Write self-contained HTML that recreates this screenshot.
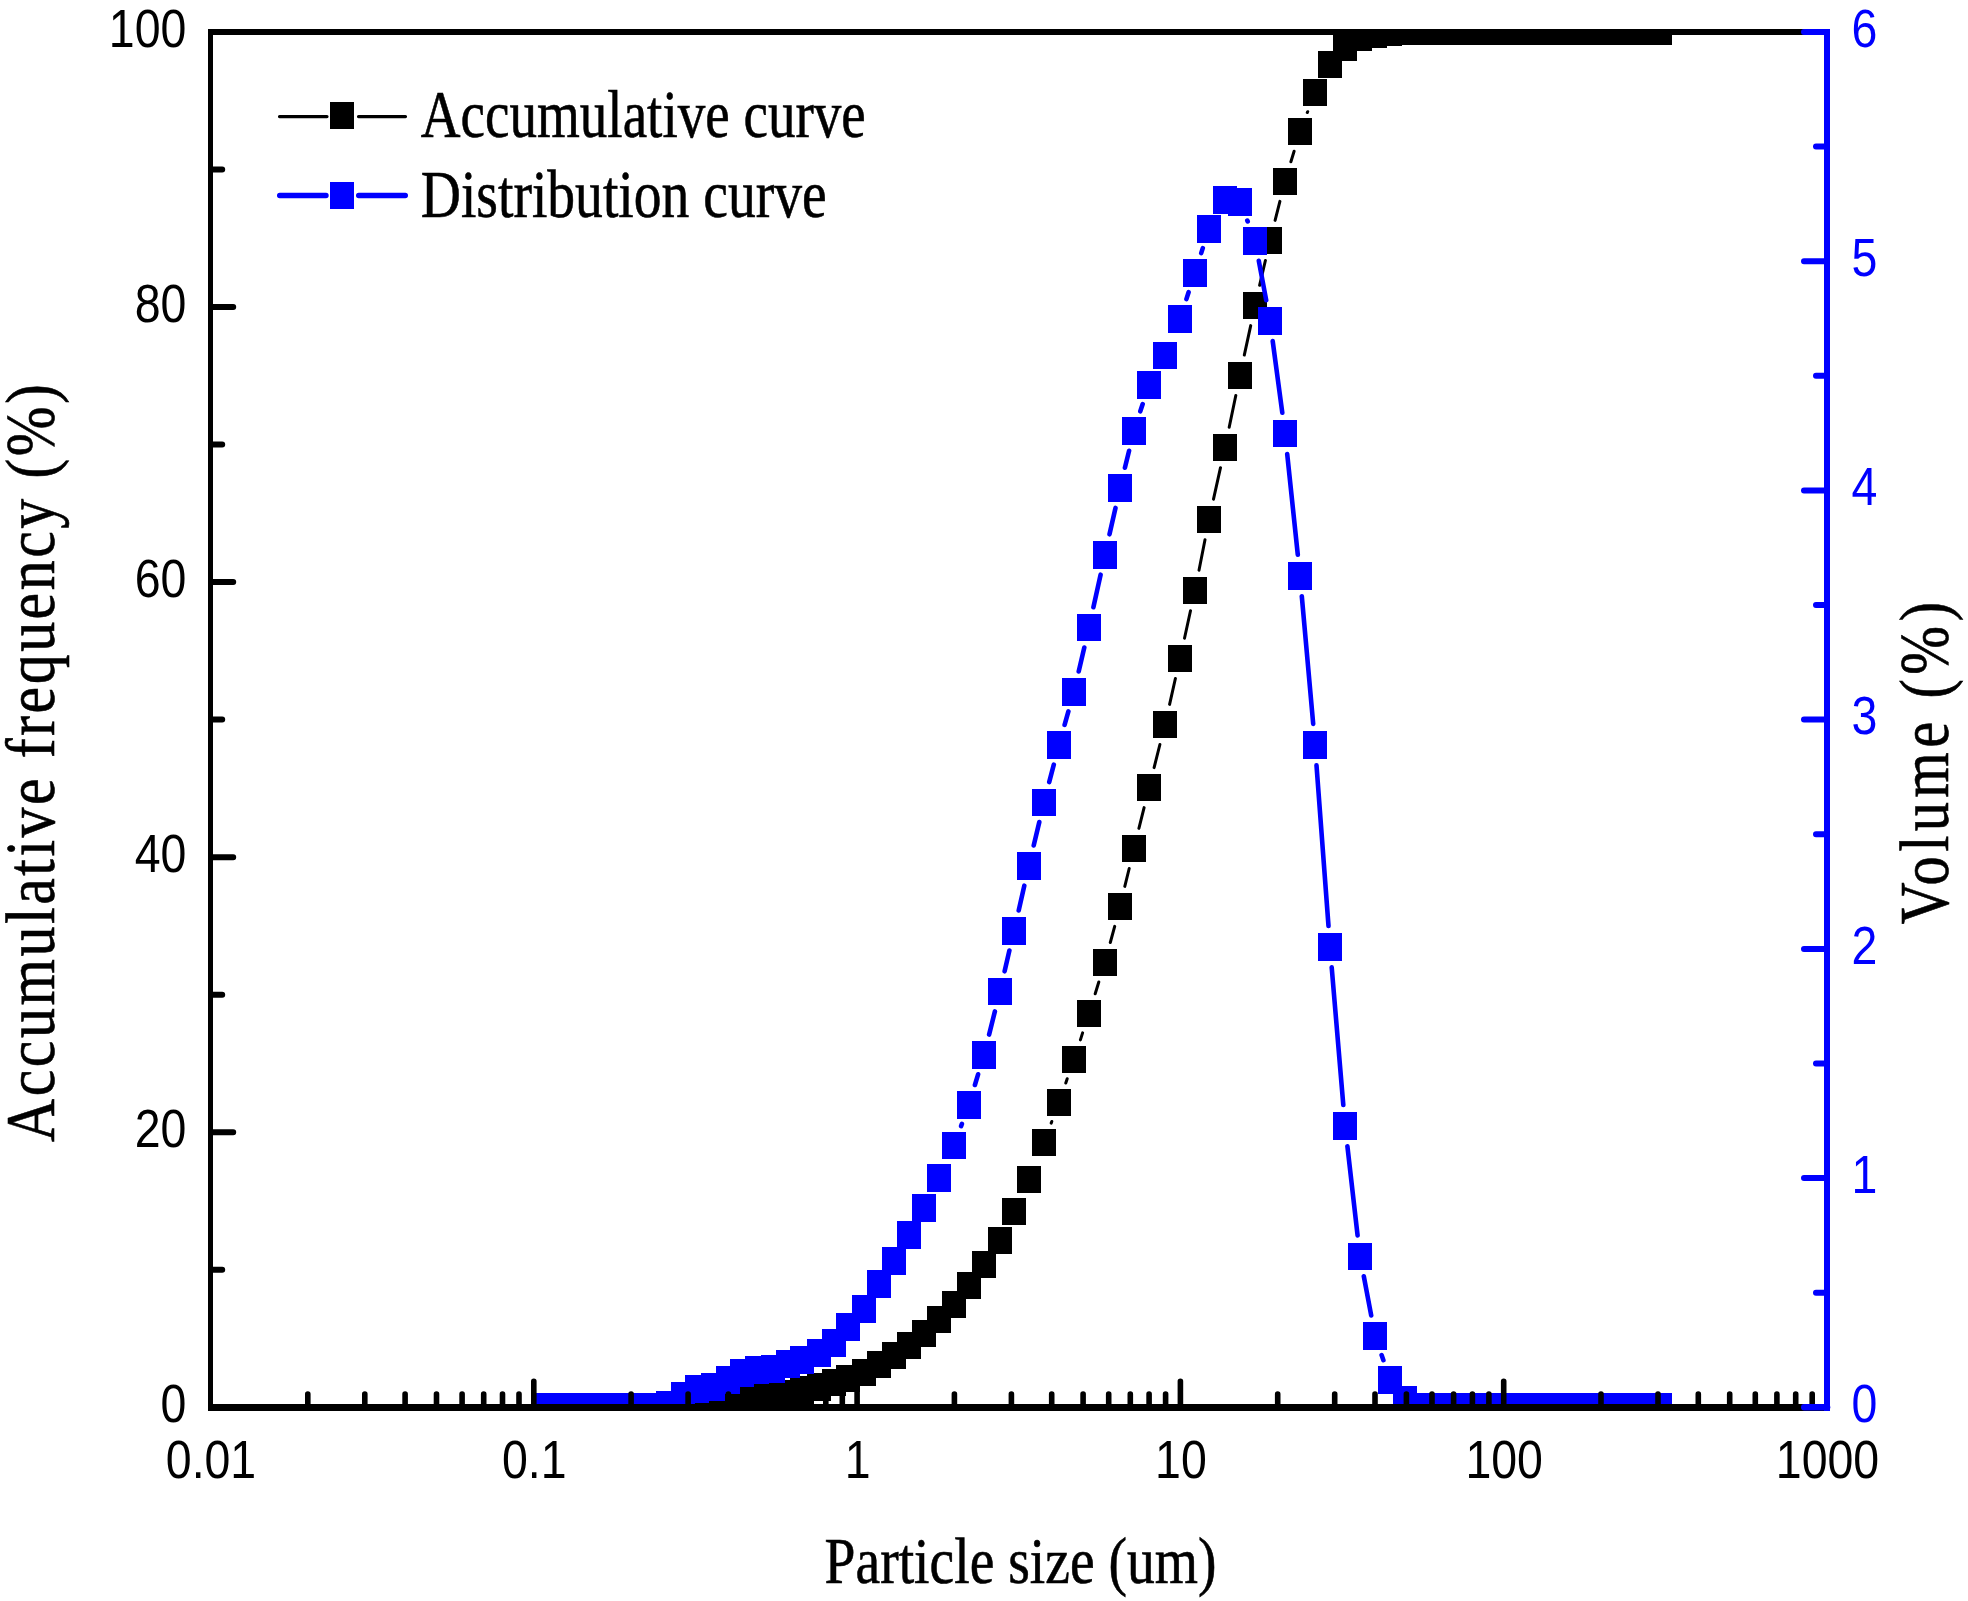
<!DOCTYPE html>
<html lang="en"><head><meta charset="utf-8"><title>Particle size distribution</title><style>html,body{margin:0;padding:0;background:#fff}svg{display:block}text{white-space:pre}</style></head>
<body>
<svg width="1968" height="1601" viewBox="0 0 1968 1601">
<rect width="1968" height="1601" fill="#fff"/>
<defs><clipPath id="pc"><rect x="210.5" y="32.0" width="1616.5" height="1375.3"/></clipPath></defs>
<g clip-path="url(#pc)">
<path d="M1051.2 1123.1 L1051.8 1121.5 M1065.8 1083.0 L1067.2 1078.7 M1080.4 1039.9 L1082.6 1032.9 M1095.2 993.8 L1098.8 982.0 M1110.3 942.5 L1114.7 926.4 M1124.8 886.4 L1129.2 868.5 M1138.9 828.4 L1144.1 807.6 M1154.1 767.6 L1159.9 744.5 M1169.6 704.4 L1175.4 678.5 M1184.5 638.2 L1190.5 610.7 M1199.0 570.2 L1205.0 539.7 M1213.5 499.2 L1220.5 467.7 M1229.2 427.3 L1235.8 395.5 M1244.3 355.1 L1250.7 325.6 M1259.6 285.3 L1265.4 260.5 M1275.1 220.4 L1279.9 201.4 M1290.9 161.7 L1294.1 151.3 M1307.3 112.5 L1307.7 111.7" fill="none" stroke="#000" stroke-width="3" stroke-linecap="round"/>
<g fill="#000" shape-rendering="crispEdges"><rect x="536.0" y="1393.6" width="24" height="28"/><rect x="551.0" y="1393.6" width="24" height="28"/><rect x="566.0" y="1393.5" width="24" height="28"/><rect x="581.0" y="1393.5" width="24" height="28"/><rect x="596.0" y="1393.5" width="24" height="28"/><rect x="611.0" y="1393.5" width="24" height="28"/><rect x="626.0" y="1393.5" width="24" height="28"/><rect x="641.0" y="1393.5" width="24" height="28"/><rect x="656.0" y="1393.3" width="24" height="28"/><rect x="671.0" y="1390.7" width="24" height="28"/><rect x="685.0" y="1389.6" width="24" height="28"/><rect x="701.0" y="1388.4" width="24" height="28"/><rect x="716.0" y="1386.8" width="24" height="28"/><rect x="730.0" y="1384.7" width="24" height="28"/><rect x="745.0" y="1382.5" width="24" height="28"/><rect x="761.0" y="1380.2" width="24" height="28"/><rect x="776.0" y="1380.0" width="24" height="28"/><rect x="790.0" y="1376.3" width="24" height="28"/><rect x="807.0" y="1373.0" width="24" height="28"/><rect x="822.0" y="1369.1" width="24" height="27"/><rect x="836.0" y="1365.1" width="24" height="27"/><rect x="852.0" y="1359.2" width="24" height="27"/><rect x="867.0" y="1351.1" width="24" height="27"/><rect x="882.0" y="1342.2" width="24" height="27"/><rect x="897.0" y="1332.2" width="24" height="27"/><rect x="912.0" y="1320.2" width="24" height="27"/><rect x="927.0" y="1306.2" width="24" height="27"/><rect x="942.0" y="1291.1" width="24" height="27"/><rect x="957.0" y="1272.2" width="24" height="27"/><rect x="972.0" y="1251.2" width="24" height="27"/><rect x="988.0" y="1227.1" width="24" height="27"/><rect x="1002.0" y="1198.1" width="24" height="27"/><rect x="1017.0" y="1166.0" width="24" height="27"/><rect x="1032.0" y="1128.8" width="24" height="27"/><rect x="1047.0" y="1088.8" width="24" height="27"/><rect x="1062.0" y="1045.9" width="24" height="27"/><rect x="1077.0" y="999.9" width="24" height="27"/><rect x="1093.0" y="948.9" width="24" height="27"/><rect x="1108.0" y="893.0" width="24" height="27"/><rect x="1122.0" y="834.9" width="24" height="27"/><rect x="1137.0" y="774.1" width="24" height="27"/><rect x="1153.0" y="711.0" width="24" height="27"/><rect x="1168.0" y="644.9" width="24" height="27"/><rect x="1183.0" y="577.0" width="24" height="27"/><rect x="1197.0" y="505.9" width="24" height="27"/><rect x="1213.0" y="434.0" width="24" height="27"/><rect x="1228.0" y="361.8" width="24" height="27"/><rect x="1243.0" y="291.9" width="24" height="27"/><rect x="1258.0" y="226.9" width="24" height="27"/><rect x="1273.0" y="167.9" width="24" height="27"/><rect x="1288.0" y="118.1" width="24" height="27"/><rect x="1303.0" y="79.1" width="24" height="27"/><rect x="1318.0" y="51.0" width="24" height="27"/><rect x="1333.0" y="34.0" width="24" height="27"/><rect x="1348.0" y="24.2" width="24" height="27"/><rect x="1363.0" y="21.1" width="24" height="27"/><rect x="1378.0" y="19.2" width="24" height="27"/><rect x="1393.0" y="18.1" width="24" height="27"/><rect x="1408.0" y="18.1" width="24" height="27"/><rect x="1423.0" y="18.1" width="24" height="27"/><rect x="1438.0" y="18.1" width="24" height="27"/><rect x="1453.0" y="18.1" width="24" height="27"/><rect x="1468.0" y="18.1" width="24" height="27"/><rect x="1483.0" y="18.1" width="24" height="27"/><rect x="1498.0" y="18.1" width="24" height="27"/><rect x="1513.0" y="18.1" width="24" height="27"/><rect x="1528.0" y="18.1" width="24" height="27"/><rect x="1543.0" y="18.1" width="24" height="27"/><rect x="1558.0" y="18.1" width="24" height="27"/><rect x="1573.0" y="18.1" width="24" height="27"/><rect x="1588.0" y="18.1" width="24" height="27"/><rect x="1603.0" y="18.1" width="24" height="27"/><rect x="1618.0" y="18.1" width="24" height="27"/><rect x="1633.0" y="18.1" width="24" height="27"/><rect x="1648.0" y="18.1" width="24" height="27"/></g>
<path d="M961.1 1126.1 L961.9 1123.9 M974.9 1085.0 L978.1 1074.3 M989.1 1034.6 L994.9 1011.4 M1004.6 971.3 L1009.4 950.6 M1018.7 910.4 L1024.3 885.7 M1033.7 845.5 L1039.3 822.1 M1049.2 782.1 L1053.8 764.6 M1064.6 724.9 L1068.4 711.4 M1078.7 671.5 L1084.3 647.5 M1093.4 607.2 L1100.6 574.7 M1109.5 534.3 L1115.5 507.9 M1124.9 467.7 L1129.1 450.8 M1140.3 411.3 L1142.7 404.1 M1186.4 299.1 L1188.6 292.2 M1201.2 253.1 L1202.8 248.1 M1247.3 220.6 L1247.7 221.4 M1258.8 260.8 L1266.2 300.2 M1272.7 341.1 L1282.3 412.7 M1287.2 454.0 L1297.8 554.8 M1301.8 596.2 L1313.2 723.9 M1316.5 765.3 L1328.5 926.0 M1331.7 967.4 L1343.3 1105.0 M1347.4 1146.3 L1357.6 1235.4 M1363.8 1276.3 L1371.2 1315.4 M1381.6 1355.1 L1383.4 1360.2" fill="none" stroke="#00f" stroke-width="4.6" stroke-linecap="round"/>
<g fill="#00f" shape-rendering="crispEdges"><rect x="536.0" y="1392.8" width="24" height="27.5"/><rect x="551.0" y="1392.8" width="24" height="27.5"/><rect x="566.0" y="1392.8" width="24" height="27.5"/><rect x="581.0" y="1392.8" width="24" height="27.5"/><rect x="596.0" y="1392.8" width="24" height="27.5"/><rect x="611.0" y="1392.8" width="24" height="27.5"/><rect x="626.0" y="1392.8" width="24" height="27.5"/><rect x="641.0" y="1392.8" width="24" height="27.5"/><rect x="656.0" y="1391.0" width="24" height="27.5"/><rect x="671.0" y="1382.1" width="24" height="27.5"/><rect x="685.0" y="1375.1" width="24" height="27.5"/><rect x="701.0" y="1373.0" width="24" height="27.5"/><rect x="716.0" y="1366.0" width="24" height="27.5"/><rect x="730.0" y="1359.0" width="24" height="27.5"/><rect x="745.0" y="1356.0" width="24" height="27.5"/><rect x="761.0" y="1355.0" width="24" height="27.5"/><rect x="776.0" y="1350.0" width="24" height="27.5"/><rect x="790.0" y="1346.0" width="24" height="27.5"/><rect x="807.0" y="1339.0" width="24" height="27.5"/><rect x="822.0" y="1329.2" width="24" height="27.5"/><rect x="836.0" y="1313.1" width="24" height="27.5"/><rect x="852.0" y="1295.0" width="24" height="27.5"/><rect x="867.0" y="1270.0" width="24" height="27.5"/><rect x="882.0" y="1247.0" width="24" height="27.5"/><rect x="897.0" y="1221.0" width="24" height="27.5"/><rect x="912.0" y="1194.0" width="24" height="27.5"/><rect x="927.0" y="1164.1" width="24" height="27.5"/><rect x="942.0" y="1131.8" width="24" height="27.5"/><rect x="957.0" y="1091.2" width="24" height="27.5"/><rect x="972.0" y="1041.1" width="24" height="27.5"/><rect x="988.0" y="977.9" width="24" height="27.5"/><rect x="1002.0" y="917.0" width="24" height="27.5"/><rect x="1017.0" y="852.1" width="24" height="27.5"/><rect x="1032.0" y="788.5" width="24" height="27.5"/><rect x="1047.0" y="731.2" width="24" height="27.5"/><rect x="1062.0" y="678.1" width="24" height="27.5"/><rect x="1077.0" y="613.9" width="24" height="27.5"/><rect x="1093.0" y="541.0" width="24" height="27.5"/><rect x="1108.0" y="474.2" width="24" height="27.5"/><rect x="1122.0" y="417.3" width="24" height="27.5"/><rect x="1137.0" y="371.1" width="24" height="27.5"/><rect x="1153.0" y="341.8" width="24" height="27.5"/><rect x="1168.0" y="305.1" width="24" height="27.5"/><rect x="1183.0" y="259.2" width="24" height="27.5"/><rect x="1197.0" y="215.0" width="24" height="27.5"/><rect x="1213.0" y="186.1" width="24" height="27.5"/><rect x="1228.0" y="188.0" width="24" height="27.5"/><rect x="1243.0" y="227.0" width="24" height="27.5"/><rect x="1258.0" y="307.0" width="24" height="27.5"/><rect x="1273.0" y="419.8" width="24" height="27.5"/><rect x="1288.0" y="562.0" width="24" height="27.5"/><rect x="1303.0" y="731.1" width="24" height="27.5"/><rect x="1318.0" y="933.2" width="24" height="27.5"/><rect x="1333.0" y="1112.2" width="24" height="27.5"/><rect x="1348.0" y="1242.5" width="24" height="27.5"/><rect x="1363.0" y="1322.2" width="24" height="27.5"/><rect x="1378.0" y="1366.1" width="24" height="27.5"/><rect x="1393.0" y="1386.2" width="24" height="27.5"/><rect x="1408.0" y="1392.8" width="24" height="27.5"/><rect x="1423.0" y="1392.8" width="24" height="27.5"/><rect x="1438.0" y="1392.8" width="24" height="27.5"/><rect x="1453.0" y="1392.8" width="24" height="27.5"/><rect x="1468.0" y="1392.8" width="24" height="27.5"/><rect x="1483.0" y="1392.8" width="24" height="27.5"/><rect x="1498.0" y="1392.8" width="24" height="27.5"/><rect x="1513.0" y="1392.8" width="24" height="27.5"/><rect x="1528.0" y="1392.8" width="24" height="27.5"/><rect x="1543.0" y="1392.8" width="24" height="27.5"/><rect x="1558.0" y="1392.8" width="24" height="27.5"/><rect x="1573.0" y="1392.8" width="24" height="27.5"/><rect x="1588.0" y="1392.8" width="24" height="27.5"/><rect x="1603.0" y="1392.8" width="24" height="27.5"/><rect x="1618.0" y="1392.8" width="24" height="27.5"/><rect x="1633.0" y="1392.8" width="24" height="27.5"/><rect x="1648.0" y="1392.8" width="24" height="27.5"/></g>
</g>
<g shape-rendering="crispEdges">
<rect x="208" y="29" width="1622" height="6" fill="#000"/>
<rect x="208" y="1404" width="1622" height="6.6" fill="#000"/>
<rect x="208" y="29" width="5.2" height="1381.6" fill="#000"/>
</g>
<path d="M212.0 1269.8 H222.2 M212.0 1132.2 H233.2 M212.0 994.7 H222.2 M212.0 857.2 H233.2 M212.0 719.6 H222.2 M212.0 582.1 H233.2 M212.0 444.6 H222.2 M212.0 307.1 H233.2 M212.0 169.5 H222.2" stroke="#000" stroke-width="6" stroke-linecap="round" fill="none"/>
<path d="M307.8 1406.3 V1394.0 M364.8 1406.3 V1394.0 M405.1 1406.3 V1394.0 M436.5 1406.3 V1394.0 M462.1 1406.3 V1394.0 M483.7 1406.3 V1394.0 M502.5 1406.3 V1394.0 M519.0 1406.3 V1394.0 M533.8 1406.3 V1381.2 M631.1 1406.3 V1394.0 M688.1 1406.3 V1394.0 M728.4 1406.3 V1394.0 M759.8 1406.3 V1394.0 M785.4 1406.3 V1394.0 M807.0 1406.3 V1394.0 M825.8 1406.3 V1394.0 M842.3 1406.3 V1394.0 M857.1 1406.3 V1381.2 M954.4 1406.3 V1394.0 M1011.4 1406.3 V1394.0 M1051.7 1406.3 V1394.0 M1083.1 1406.3 V1394.0 M1108.7 1406.3 V1394.0 M1130.3 1406.3 V1394.0 M1149.1 1406.3 V1394.0 M1165.6 1406.3 V1394.0 M1180.4 1406.3 V1381.2 M1277.7 1406.3 V1394.0 M1334.7 1406.3 V1394.0 M1375.0 1406.3 V1394.0 M1406.4 1406.3 V1394.0 M1432.0 1406.3 V1394.0 M1453.6 1406.3 V1394.0 M1472.4 1406.3 V1394.0 M1488.9 1406.3 V1394.0 M1503.7 1406.3 V1381.2 M1601.0 1406.3 V1394.0 M1658.0 1406.3 V1394.0 M1698.3 1406.3 V1394.0 M1729.7 1406.3 V1394.0 M1755.3 1406.3 V1394.0 M1776.9 1406.3 V1394.0 M1795.7 1406.3 V1394.0 M1812.2 1406.3 V1394.0" stroke="#000" stroke-width="5.6" stroke-linecap="round" fill="none"/>
<g shape-rendering="crispEdges">
<rect x="1824" y="29" width="6" height="1381.6" fill="#00f"/>
</g>
<path d="M1804 32 H1827" stroke="#00f" stroke-width="6" stroke-linecap="round" fill="none"/>
<path d="M1804.3 1407.3 H1827" stroke="#00f" stroke-width="6.6" stroke-linecap="round" fill="none"/>
<path d="M1827.0 1292.7 H1816.0 M1827.0 1178.1 H1804.0 M1827.0 1063.5 H1816.0 M1827.0 948.9 H1804.0 M1827.0 834.3 H1816.0 M1827.0 719.6 H1804.0 M1827.0 605.0 H1816.0 M1827.0 490.4 H1804.0 M1827.0 375.8 H1816.0 M1827.0 261.2 H1804.0 M1827.0 146.6 H1816.0" stroke="#00f" stroke-width="6" stroke-linecap="round" fill="none"/>
<text transform="translate(186.3 1422.1) scale(0.8527 1)" text-anchor="end" fill="#000" style="font-family:'Liberation Sans',sans-serif;font-size:54.5px" >0</text>
<text transform="translate(186.3 1147.0) scale(0.8527 1)" text-anchor="end" fill="#000" style="font-family:'Liberation Sans',sans-serif;font-size:54.5px" >20</text>
<text transform="translate(186.3 872.0) scale(0.8527 1)" text-anchor="end" fill="#000" style="font-family:'Liberation Sans',sans-serif;font-size:54.5px" >40</text>
<text transform="translate(186.3 596.9) scale(0.8527 1)" text-anchor="end" fill="#000" style="font-family:'Liberation Sans',sans-serif;font-size:54.5px" >60</text>
<text transform="translate(186.3 321.9) scale(0.8527 1)" text-anchor="end" fill="#000" style="font-family:'Liberation Sans',sans-serif;font-size:54.5px" >80</text>
<text transform="translate(186.3 46.8) scale(0.8527 1)" text-anchor="end" fill="#000" style="font-family:'Liberation Sans',sans-serif;font-size:54.5px" >100</text>
<text transform="translate(1851.6 1422.1) scale(0.8527 1)" text-anchor="start" fill="#00f" style="font-family:'Liberation Sans',sans-serif;font-size:54.5px" >0</text>
<text transform="translate(1851.6 1192.9) scale(0.8527 1)" text-anchor="start" fill="#00f" style="font-family:'Liberation Sans',sans-serif;font-size:54.5px" >1</text>
<text transform="translate(1851.6 963.7) scale(0.8527 1)" text-anchor="start" fill="#00f" style="font-family:'Liberation Sans',sans-serif;font-size:54.5px" >2</text>
<text transform="translate(1851.6 734.4) scale(0.8527 1)" text-anchor="start" fill="#00f" style="font-family:'Liberation Sans',sans-serif;font-size:54.5px" >3</text>
<text transform="translate(1851.6 505.2) scale(0.8527 1)" text-anchor="start" fill="#00f" style="font-family:'Liberation Sans',sans-serif;font-size:54.5px" >4</text>
<text transform="translate(1851.6 276.0) scale(0.8527 1)" text-anchor="start" fill="#00f" style="font-family:'Liberation Sans',sans-serif;font-size:54.5px" >5</text>
<text transform="translate(1851.6 46.8) scale(0.8527 1)" text-anchor="start" fill="#00f" style="font-family:'Liberation Sans',sans-serif;font-size:54.5px" >6</text>
<text transform="translate(211.0 1477.5) scale(0.8527 1)" text-anchor="middle" fill="#000" style="font-family:'Liberation Sans',sans-serif;font-size:54.5px" >0.01</text>
<text transform="translate(534.3 1477.5) scale(0.8527 1)" text-anchor="middle" fill="#000" style="font-family:'Liberation Sans',sans-serif;font-size:54.5px" >0.1</text>
<text transform="translate(857.6 1477.5) scale(0.8527 1)" text-anchor="middle" fill="#000" style="font-family:'Liberation Sans',sans-serif;font-size:54.5px" >1</text>
<text transform="translate(1180.9 1477.5) scale(0.8527 1)" text-anchor="middle" fill="#000" style="font-family:'Liberation Sans',sans-serif;font-size:54.5px" >10</text>
<text transform="translate(1504.2 1477.5) scale(0.8527 1)" text-anchor="middle" fill="#000" style="font-family:'Liberation Sans',sans-serif;font-size:54.5px" >100</text>
<text transform="translate(1827.5 1477.5) scale(0.8527 1)" text-anchor="middle" fill="#000" style="font-family:'Liberation Sans',sans-serif;font-size:54.5px" >1000</text>
<text transform="translate(824.6 1583.0) scale(0.8616 1)" text-anchor="start" fill="#000" style="font-family:'Liberation Serif',serif;font-size:64.5px" stroke="#000" stroke-width="0.6">Particle size (um)</text>
<text transform="translate(420.8 136.8) scale(0.8185 1)" text-anchor="start" fill="#000" style="font-family:'Liberation Serif',serif;font-size:67.3px" stroke="#000" stroke-width="0.6">Accumulative curve</text>
<text transform="translate(420.8 217.0) scale(0.8256 1)" text-anchor="start" fill="#000" style="font-family:'Liberation Serif',serif;font-size:67.3px" stroke="#000" stroke-width="0.6">Distribution curve</text>
<text transform="translate(54.3 1142) rotate(-90) scale(0.86 1)" fill="#000" stroke="#000" stroke-width="0.6" style="font-family:'Liberation Serif',serif;font-size:69.6px;letter-spacing:2.95px">Accumulative frequency (%)</text>
<text transform="translate(1947.7 924.5) rotate(-90) scale(0.84 1)" fill="#000" stroke="#000" stroke-width="0.6" style="font-family:'Liberation Serif',serif;font-size:69.6px;letter-spacing:5.2px">Volume (%)</text>
<path d="M279.5 116.6 H327 M358.5 116.6 H405.5" stroke="#000" stroke-width="3.2" stroke-linecap="round" fill="none"/>
<rect x="330" y="102" width="24" height="27" fill="#000" shape-rendering="crispEdges"/>
<path d="M279.7 195.5 H326 M358.7 195.5 H405.3" stroke="#00f" stroke-width="5.4" stroke-linecap="round" fill="none"/>
<rect x="330" y="182" width="24" height="27" fill="#00f" shape-rendering="crispEdges"/>
</svg>
</body></html>
